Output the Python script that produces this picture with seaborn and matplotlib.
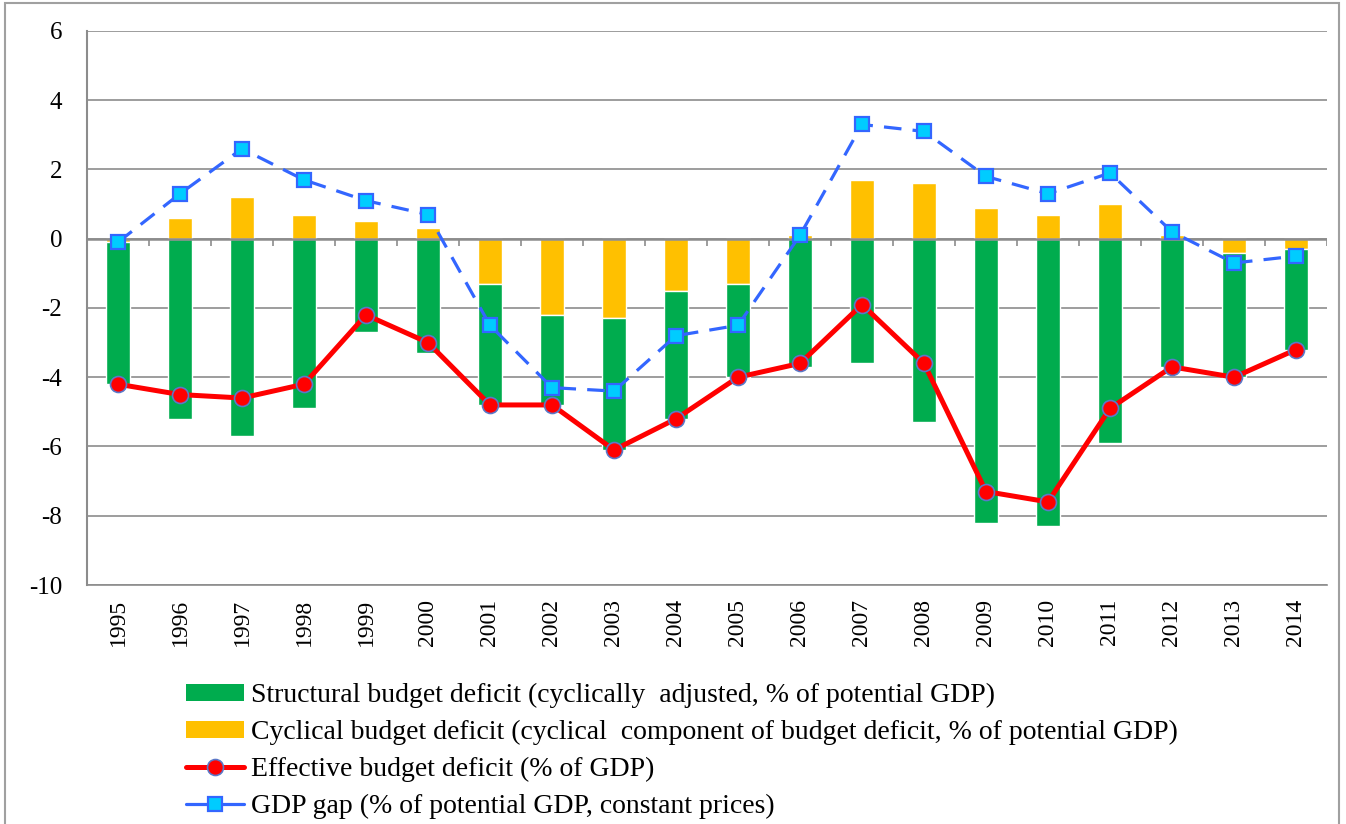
import numpy as np
import pandas as pd
import matplotlib
matplotlib.use("Agg")
import matplotlib.pyplot as plt
from matplotlib.lines import Line2D
from matplotlib.patches import Patch, Rectangle
import seaborn as sns

# Data
years = [str(y) for y in range(1995, 2015)]
structural = [-4.1, -5.2, -5.7, -4.9, -2.7, -3.3, -3.5, -2.6, -3.8, -3.7,
              -2.7, -3.7, -3.6, -5.3, -8.2, -8.3, -5.9, -3.7, -3.6, -2.9]
cyclical = [-0.1, 0.6, 1.2, 0.7, 0.5, 0.3, -1.3, -2.2, -2.3, -1.5,
            -1.3, 0.1, 1.7, 1.6, 0.9, 0.7, 1.0, 0.1, -0.4, -0.3]
effective = [-4.2, -4.5, -4.6, -4.2, -2.2, -3.0, -4.8, -4.8, -6.1, -5.2,
             -4.0, -3.6, -1.9, -3.6, -7.3, -7.6, -4.9, -3.7, -4.0, -3.2]
gdp_gap = [-0.1, 1.3, 2.6, 1.7, 1.1, 0.7, -2.5, -4.3, -4.4, -2.8,
           -2.5, 0.1, 3.3, 3.1, 1.8, 1.3, 1.9, 0.2, -0.7, -0.5]
yticks = list(range(-10, 7, 2))

labels = [
    "Structural budget deficit (cyclically  adjusted, % of potential GDP)",
    "Cyclical budget deficit (cyclical  component of budget deficit, % of potential GDP)",
    "Effective budget deficit (% of GDP)",
    "GDP gap (% of potential GDP, constant prices)",
]

df = pd.DataFrame({"year": years, "structural": structural, "cyclical": cyclical,
                   "effective": effective, "gap": gdp_gap})
# structural bars sit below the negative part of the cyclical component
struct_bottom = np.minimum(df["cyclical"].values, 0)

GREEN = "#00AC4E"
ORANGE = "#FFC000"
GRID = "#8C8C8C"
RED_EDGE = "#5B78C8"

sns.set_style("white")
plt.rcParams["font.family"] = ["Liberation Serif", "DejaVu Serif"]
plt.rcParams["text.color"] = "black"

fig = plt.figure(figsize=(13.46, 8.24), dpi=100)
ax = fig.add_axes([87 / 1346, 1 - 585 / 824, (1327 - 87) / 1346, (585 - 31) / 824])

sns.barplot(data=df, x="year", y="cyclical", color=ORANGE, width=0.4,
            saturation=1, errorbar=None, ax=ax, zorder=2)
sns.barplot(data=df, x="year", y="structural", color=GREEN, width=0.4,
            saturation=1, errorbar=None, ax=ax, zorder=2, bottom=struct_bottom)

sns.pointplot(data=df, x="year", y="effective", color="#FF0000", markers="o",
              linestyles="-", errorbar=None, ax=ax, linewidth=3.6,
              markersize=11.5, markeredgecolor=RED_EDGE, markeredgewidth=1.2,
              zorder=4)
sns.pointplot(data=df, x="year", y="gap", color="#3366FF", markers="s",
              linestyles=(0, (5.5, 3.5)), errorbar=None, ax=ax, linewidth=2.3,
              markersize=10, markerfacecolor="#00CCFF", markeredgecolor="#3366FF",
              markeredgewidth=1.6, zorder=5)

ax.set_xlim(-0.5, len(years) - 0.5)
ax.set_ylim(-10, 6)
ax.set_yticks(yticks)
ax.yaxis.grid(True, color=GRID, linewidth=1.2)
ax.set_axisbelow(True)
ax.set_xlabel("")
ax.set_ylabel("")

# category axis crosses at zero, with small ticks between categories
ax.axhline(0, color=GRID, linewidth=1.8, zorder=3)
ax.vlines(np.arange(-0.5, len(years)), -0.2, 0, color=GRID, linewidth=1.2, zorder=3)

for side in ["top", "right"]:
    ax.spines[side].set_visible(False)
ax.spines["left"].set_color(GRID)
ax.spines["left"].set_linewidth(1.5)
ax.spines["bottom"].set_color(GRID)
ax.spines["bottom"].set_linewidth(1.2)

ax.tick_params(axis="y", direction="out", length=7, color=GRID, width=1.2,
               labelsize=18, labelcolor="black", pad=11)
ax.tick_params(axis="x", length=0, labelsize=17, labelcolor="black", pad=10,
               labelrotation=90)
ax.set_yticklabels([str(t) for t in yticks])

handles = [
    Patch(facecolor=GREEN, edgecolor="none"),
    Patch(facecolor=ORANGE, edgecolor="none"),
    Line2D([], [], color="#FF0000", linewidth=3.6, marker="o", markersize=11.5,
           markeredgecolor=RED_EDGE, markeredgewidth=1.2),
    Line2D([], [], color="#3366FF", linewidth=2.3, marker="s", markersize=10,
           markerfacecolor="#00CCFF", markeredgecolor="#3366FF", markeredgewidth=1.6),
]
fig.legend(handles, labels, loc="upper left", bbox_to_anchor=(175 / 1346, 1 - 672 / 824),
           frameon=False, fontsize=20, handlelength=2.1, handleheight=0.55,
           handletextpad=0.25, labelspacing=0.42, borderaxespad=0)

fig.patches.append(Rectangle((5 / 1346, -0.01), 1334 / 1346, 1.0 - 3 / 824 + 0.01,
                             transform=fig.transFigure, fill=False,
                             edgecolor="#A0A0A0", linewidth=1.5))

fig.savefig("out.png", dpi=100)
